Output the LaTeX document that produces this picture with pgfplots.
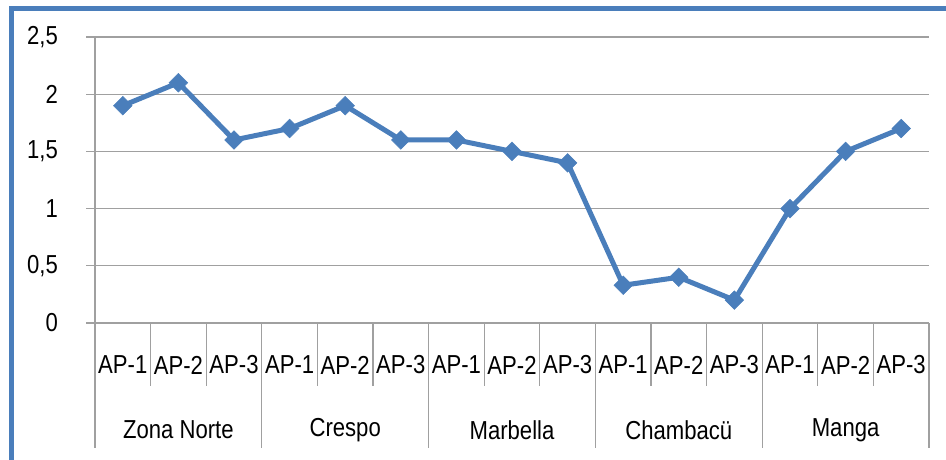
\documentclass[border=0pt]{standalone}
\usepackage{fontspec}
\setmainfont[FakeStretch=0.85]{Liberation Sans}
\usepackage{pgfplots}
\pgfplotsset{compat=1.18}
\definecolor{xlblue}{HTML}{4A7EBB}
\definecolor{gridgray}{HTML}{A0A0A0}
\newcommand{\lbl}{\fontsize{26}{30}\selectfont}

\begin{document}
\begin{tikzpicture}
\begin{axis}[
  at={(95pt,136pt)}, anchor=south west,
  scale only axis, width=834pt, height=286pt,
  xmin=-0.5, xmax=14.5, ymin=0, ymax=2.5,
  axis x line*=bottom, axis y line*=left,
  axis line style={gridgray, line width=1.3pt, -},
  ytick={0,0.5,1,1.5,2,2.5},
  yticklabels={0,{0,5},1,{1,5},2,{2,5}},
  ymajorgrids, grid style={gridgray, line width=1.3pt},
  xtick=\empty,
  tick align=outside, major tick length=9pt,
  tick style={gridgray, line width=1.3pt},
  yticklabel style={font=\lbl, anchor=east, inner sep=0pt, xshift=-28pt},
  clip=false,
]
\addplot[xlblue, line width=5pt, mark=square*, mark size=6.6pt,
  mark options={solid, rotate=45, line width=0.5pt}] coordinates {
(0,1.9) (1,2.1) (2,1.6)
(3,1.7) (4,1.9) (5,1.6)
(6,1.6) (7,1.5) (8,1.4)
(9,0.33) (10,0.4) (11,0.2)
(12,1.0) (13,1.5) (14,1.7)
};
% category separators
\pgfplotsinvokeforeach{0.5,1.5,3.5,4.5,6.5,7.5,9.5,10.5,12.5,13.5}{
  \draw[gridgray, line width=1.3pt] (axis cs:#1,0) -- ([yshift=-63pt]axis cs:#1,0);
}
\pgfplotsinvokeforeach{-0.5,2.5,5.5,8.5,11.5,14.5}{
  \draw[gridgray, line width=1.3pt] (axis cs:#1,0) -- ([yshift=-125pt]axis cs:#1,0);
}
% AP labels
\pgfplotsinvokeforeach{0,3,6,9,12}{
  \node[font=\lbl, inner sep=0pt] at ([yshift=-42pt]axis cs:#1,0) {AP-1};
}
\pgfplotsinvokeforeach{1,4,7,10,13}{
  \node[font=\lbl, inner sep=0pt] at ([yshift=-42pt]axis cs:#1,0) {AP-2};
}
\pgfplotsinvokeforeach{2,5,8,11,14}{
  \node[font=\lbl, inner sep=0pt] at ([yshift=-42pt]axis cs:#1,0) {AP-3};
}
% group labels
\node[font=\lbl, inner sep=0pt] at ([yshift=-107pt]axis cs:1,0) {Zona Norte};
\node[font=\lbl, inner sep=0pt] at ([yshift=-107pt]axis cs:4,0) {Crespo};
\node[font=\lbl, inner sep=0pt] at ([yshift=-107pt]axis cs:7,0) {Marbella};
\node[font=\lbl, inner sep=0pt] at ([yshift=-107pt]axis cs:10,0) {Chambacü};
\node[font=\lbl, inner sep=0pt] at ([yshift=-107pt]axis cs:13,0) {Manga};
\end{axis}
% chart frame
\draw[xlblue, line width=5pt] (11.5pt,-20pt) -- (11.5pt,450.5pt) -- (980pt,450.5pt);
\pgfresetboundingbox
\path[use as bounding box] (0,0) rectangle (946pt,459pt);
\end{tikzpicture}
\end{document}
